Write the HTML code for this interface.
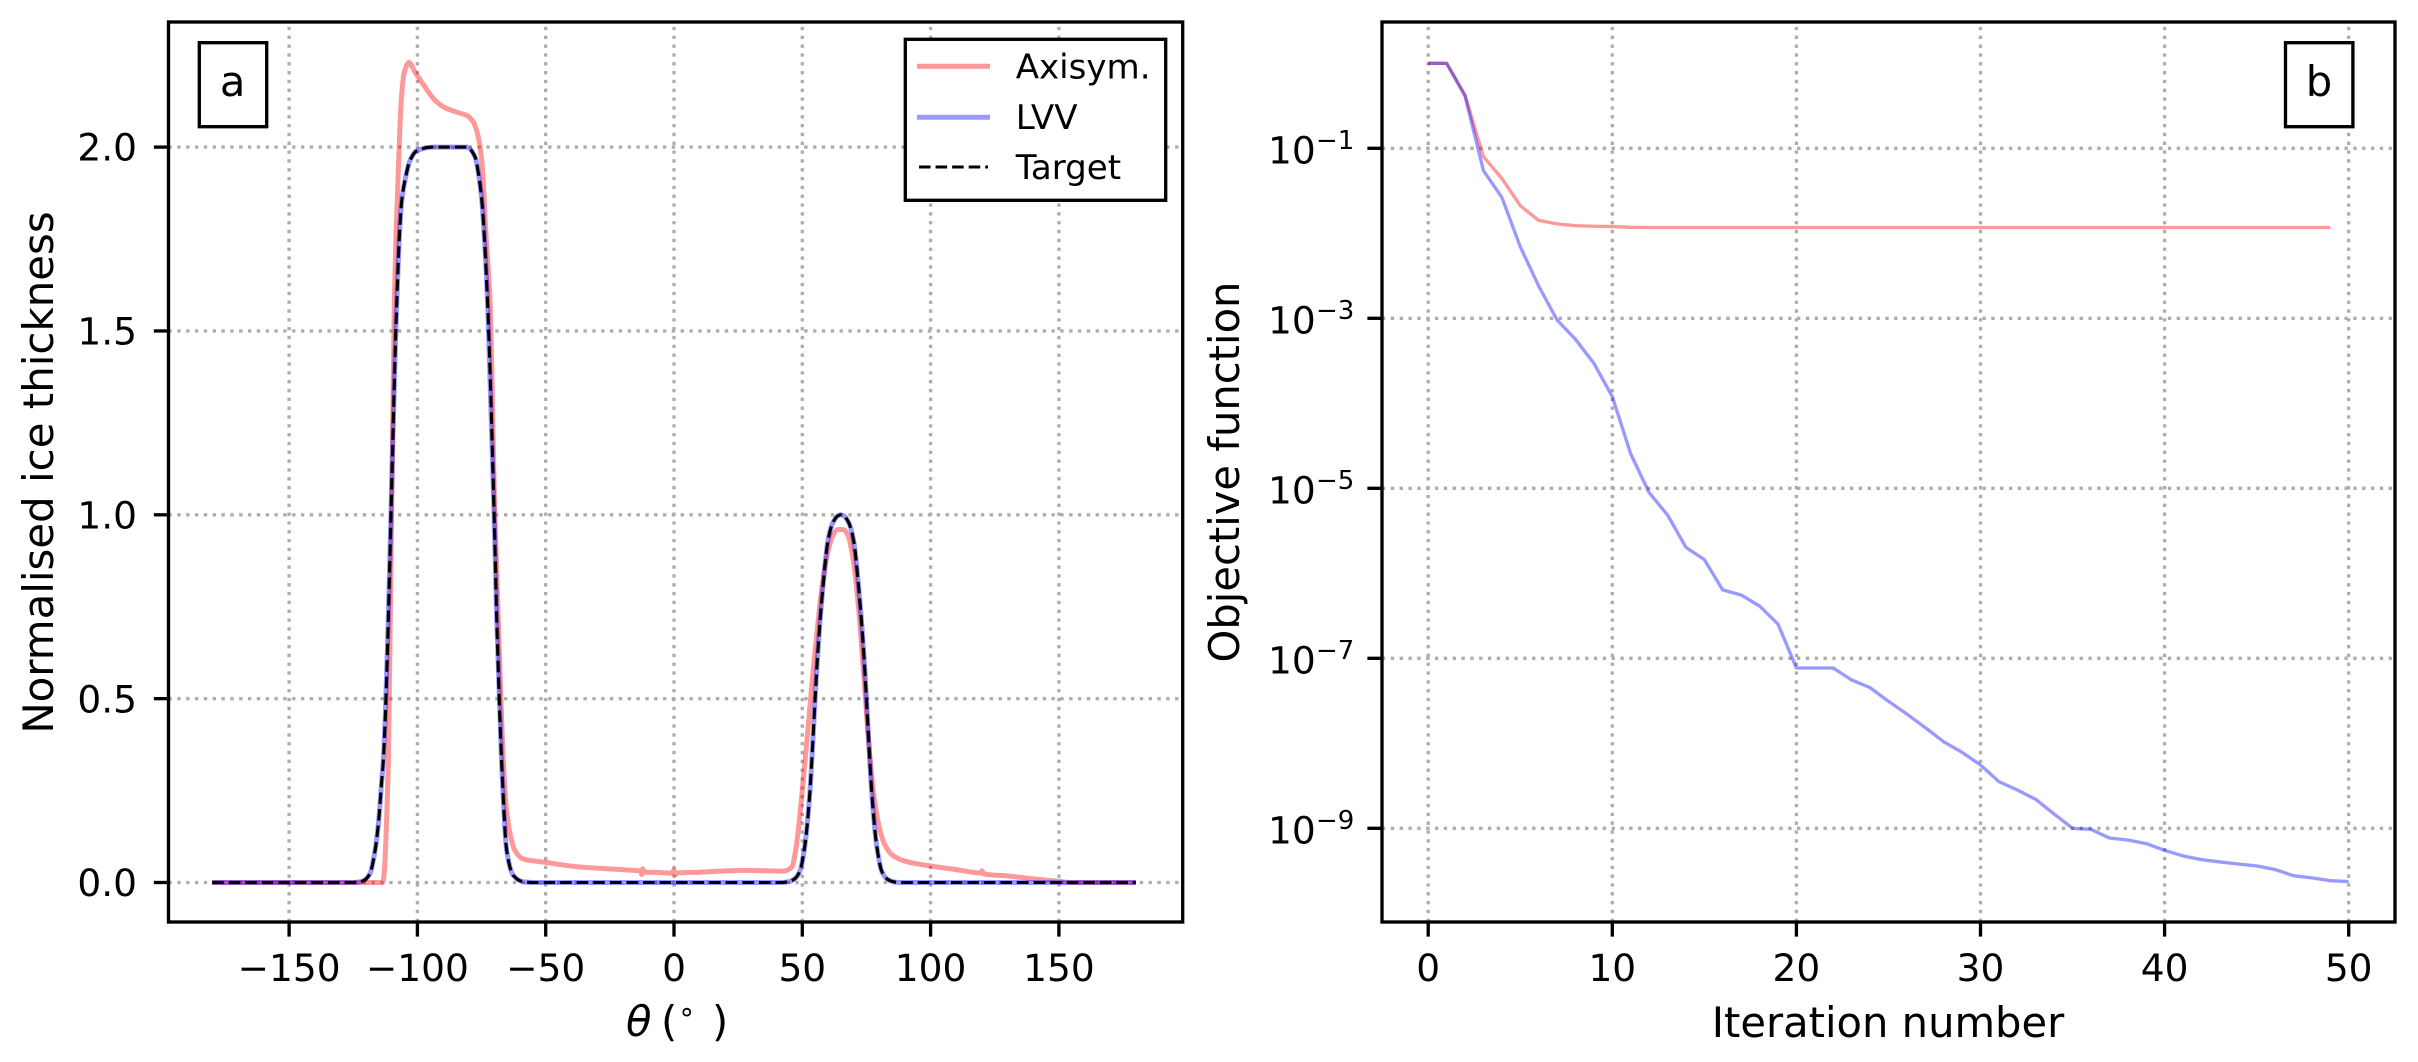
<!DOCTYPE html>
<html lang="en">
<head>
<meta charset="utf-8">
<title>Ice thickness and objective function</title>
<style>
html,body{margin:0;padding:0;background:#fff;width:2418px;height:1062px;overflow:hidden}
svg{display:block}
text{font-family:"DejaVu Sans","Liberation Sans",sans-serif;fill:#000}
.tick{font-size:37.5px}
.sup{font-size:26px}
.title{font-size:41.67px}
.leg{font-size:34.1px}
</style>
</head>
<body>
<svg id="fig" xmlns="http://www.w3.org/2000/svg" width="2418" height="1062" viewBox="0 0 2418 1062">
  <rect width="2418" height="1062" fill="#fff"/>
  <g id="panel-a">
    <g id="a-grid"></g>
    <g id="a-lines"></g>
    <rect x="168.5" y="22" width="1014.2" height="900" fill="none" stroke="#000" stroke-width="3.33"/>
    <g id="a-ticks"></g>
    <text class="title" style="font-size:41.9px" text-anchor="middle" transform="translate(53 472.5) rotate(-90)">Normalised ice thickness</text>
    <text class="title" y="1036"><tspan x="626" font-style="italic">θ</tspan><tspan x="661">(</tspan><tspan x="678" font-size="28" dy="-15">∘</tspan><tspan x="712" dy="15">)</tspan></text>
    <g>
      <rect x="199.3" y="42.7" width="67.4" height="84" fill="#fff" stroke="#000" stroke-width="3.33"/>
      <text class="title" x="232.6" y="96" text-anchor="middle">a</text>
    </g>
    <g>
      <rect x="905.3" y="39.3" width="260.4" height="161" fill="#fff" stroke="#000" stroke-width="3.33"/>
      <line x1="917" x2="990" y1="66.3" y2="66.3" stroke="#ff0000" stroke-opacity="0.4" stroke-width="5"/>
      <text class="leg" x="1015.7" y="78.3">Axisym.</text>
      <line x1="917" x2="990" y1="117.3" y2="117.3" stroke="#0000ff" stroke-opacity="0.4" stroke-width="5"/>
      <text class="leg" x="1015.7" y="129">LVV</text>
      <line x1="919" x2="988" y1="167" y2="167" stroke="#000" stroke-width="3.12" stroke-dasharray="11.56 5"/>
      <text class="leg" x="1015.7" y="179">Target</text>
    </g>
  </g>
  <g id="panel-b">
    <g id="b-grid"></g>
    <g id="b-lines"></g>
    <rect x="1382" y="22" width="1013" height="900" fill="none" stroke="#000" stroke-width="3.33"/>
    <g id="b-ticks"></g>
    <text class="title" text-anchor="middle" transform="translate(1239 472) rotate(-90)">Objective function</text>
    <text class="title" x="1888" y="1037" text-anchor="middle">Iteration number</text>
    <g>
      <rect x="2285.5" y="42.7" width="67.4" height="84" fill="#fff" stroke="#000" stroke-width="3.33"/>
      <text class="title" x="2319" y="96" text-anchor="middle">b</text>
    </g>
  </g>
</svg>
<script>
// Panel a data
const thetaTicks = [-150, -100, -50, 0, 50, 100, 150];
const thetaTickLabels = ['−150', '−100', '−50', '0', '50', '100', '150'];
const thicknessTicks = [0, 0.5, 1, 1.5, 2];
const thicknessTickLabels = ['0.0', '0.5', '1.0', '1.5', '2.0'];
const thetaShape = [-180, -125, -123, -121, -118.5, -116.5, -115.2, -113.9, -113.3, -108, -107, -106.1, -104.6, -102.9, -100.3, -94, -90, -80.8, -77.5, -76.2, -74.9, -74, -72.5, -70.1, -69.1, -67.2, -65.2, -62.6, -58.8, -55, 42, 45, 47, 49, 51, 53, 54, 55, 56, 58, 60, 62, 64, 65, 66, 68, 70, 72, 74, 75, 76, 77, 79, 81, 83, 85, 88, 180];
const targetValues = [0, 0, 0.001, 0.005, 0.024, 0.087, 0.16, 0.277, 0.33, 1.583, 1.76, 1.855, 1.918, 1.963, 1.99, 2, 2, 2, 1.973, 1.928, 1.855, 1.765, 1.55, 1, 0.72, 0.33, 0.087, 0.019, 0.002, 0, 0, 0.003, 0.01, 0.03, 0.1, 0.25, 0.37, 0.5, 0.62, 0.8, 0.93, 0.98, 0.998, 1, 0.998, 0.98, 0.93, 0.8, 0.62, 0.5, 0.37, 0.25, 0.1, 0.03, 0.01, 0.003, 0, 0];
const lvvValues = [0, 0, 0.001, 0.005, 0.024, 0.087, 0.16, 0.277, 0.33, 1.583, 1.76, 1.855, 1.918, 1.963, 1.99, 2, 2, 2, 1.973, 1.928, 1.855, 1.765, 1.55, 1, 0.72, 0.33, 0.087, 0.019, 0.002, 0, 0, 0.003, 0.01, 0.03, 0.1, 0.25, 0.37, 0.5, 0.62, 0.8, 0.93, 0.98, 0.998, 1, 0.998, 0.98, 0.93, 0.8, 0.62, 0.5, 0.37, 0.25, 0.1, 0.03, 0.01, 0.003, 0, 0];
const thetaAxisym = [-180, -113.6, -113.2, -111.3, -109, -108.3, -107.4, -106.3, -105.2, -103.3, -100.9, -97, -93.1, -89.2, -84.7, -80.8, -78.2, -76, -74.7, -73.3, -71.7, -69.8, -68.5, -66.5, -65.5, -63.9, -62, -58.7, -50.3, -37.9, -16, -13, -12.6, -12.2, -11.8, -5, -0.6, 0, 0.6, 1.4, 10, 27, 42.6, 45.9, 47.6, 49.1, 50, 52, 54, 56, 58, 60, 62, 64, 66, 68, 70, 72, 74, 76, 78, 80, 82, 85, 90, 100, 110, 119.5, 120, 120.5, 130, 140, 150, 155, 180];
const axisymValues = [0, 0, 0.01, 0.33, 1.583, 1.765, 1.945, 2.127, 2.2, 2.23, 2.204, 2.163, 2.127, 2.107, 2.095, 2.086, 2.068, 2.018, 1.945, 1.765, 1.583, 1, 0.72, 0.33, 0.214, 0.133, 0.087, 0.064, 0.055, 0.043, 0.033, 0.031, 0.022, 0.037, 0.029, 0.027, 0.025, 0.034, 0.021, 0.026, 0.028, 0.033, 0.031, 0.042, 0.096, 0.187, 0.25, 0.4, 0.56, 0.7, 0.82, 0.9, 0.945, 0.96, 0.96, 0.94, 0.87, 0.74, 0.56, 0.37, 0.23, 0.15, 0.105, 0.075, 0.058, 0.045, 0.035, 0.026, 0.032, 0.024, 0.018, 0.01, 0.003, 0, 0];

// Panel b data
const iterationTicks = [0, 10, 20, 30, 40, 50];
const iterationTickLabels = ['0', '10', '20', '30', '40', '50'];
const objectiveTickExponents = [-1, -3, -5, -7, -9];
const objectiveTickLabels = ['−1', '−3', '−5', '−7', '−9'];
const axisymObjective = [1, 1, 0.424, 7.97e-2, 4.43e-2, 2.11e-2, 1.42e-2, 1.29e-2, 1.23e-2, 1.21e-2, 1.2e-2, 1.175e-2, 1.17e-2, 1.17e-2, 1.17e-2, 1.17e-2, 1.17e-2, 1.17e-2, 1.17e-2, 1.17e-2, 1.17e-2, 1.17e-2, 1.17e-2, 1.17e-2, 1.17e-2, 1.17e-2, 1.17e-2, 1.17e-2, 1.17e-2, 1.17e-2, 1.17e-2, 1.17e-2, 1.17e-2, 1.17e-2, 1.17e-2, 1.17e-2, 1.17e-2, 1.17e-2, 1.17e-2, 1.17e-2, 1.17e-2, 1.17e-2, 1.17e-2, 1.17e-2, 1.17e-2, 1.17e-2, 1.17e-2, 1.17e-2, 1.17e-2, 1.17e-2];
const lvvObjective = [1, 1, 0.412, 5.46e-2, 2.65e-2, 6.95e-3, 2.4e-3, 9.55e-4, 5.66e-4, 2.95e-4, 1.2e-4, 2.54e-5, 8.9e-6, 4.85e-6, 2.02e-6, 1.45e-6, 6.37e-7, 5.56e-7, 4.12e-7, 2.53e-7, 7.69e-8, 7.69e-8, 7.69e-8, 5.56e-8, 4.52e-8, 3.12e-8, 2.21e-8, 1.53e-8, 1.04e-8, 7.83e-9, 5.56e-9, 3.54e-9, 2.82e-9, 2.19e-9, 1.47e-9, 1e-9, 9.73e-10, 7.69e-10, 7.29e-10, 6.61e-10, 5.51e-10, 4.73e-10, 4.28e-10, 4.02e-10, 3.8e-10, 3.61e-10, 3.27e-10, 2.77e-10, 2.61e-10, 2.42e-10, 2.36e-10];

const NS = 'http://www.w3.org/2000/svg';
const TOP = 22, BOTTOM = 922;
const xA = t => 674 + 2.566 * t;
const yA = v => 882.5 - 367.7 * v;
const xB = i => 1428.2 + 18.41 * i;
const yB = v => 148.3 - 85 * (Math.log10(v) + 1);

function mk(tag, parent) {
  const el = document.createElementNS(NS, tag);
  parent.appendChild(el);
  return el;
}
function set(el, o) {
  for (const k in o) el.setAttribute(k, o[k]);
  return el;
}
function gridLine(parent, x1, y1, x2, y2) {
  const el = mk('line', parent);
  set(el, {x1, y1, x2, y2, stroke: '#adadad', 'stroke-width': 3.33, 'stroke-dasharray': '3.33 5.5'});
  return el;
}
function tickMark(parent, x1, y1, x2, y2) {
  const el = mk('line', parent);
  set(el, {x1, y1, x2, y2, stroke: '#000', 'stroke-width': 3.33});
  return el;
}
function monotonePath(px, py) {
  const n = px.length, s = [], m = [];
  for (let i = 0; i < n - 1; i++) s.push((py[i + 1] - py[i]) / (px[i + 1] - px[i]));
  m.push(s[0]);
  for (let i = 1; i < n - 1; i++) {
    if (s[i - 1] * s[i] <= 0) { m.push(0); continue; }
    const h0 = px[i] - px[i - 1], h1 = px[i + 1] - px[i];
    m.push(3 * (h0 + h1) / ((2 * h1 + h0) / s[i - 1] + (h1 + 2 * h0) / s[i]));
  }
  m.push(s[n - 2]);
  let d = 'M' + px[0].toFixed(2) + ' ' + py[0].toFixed(2);
  for (let i = 0; i < n - 1; i++) {
    const h = (px[i + 1] - px[i]) / 3;
    d += 'C' + (px[i] + h).toFixed(2) + ' ' + (py[i] + m[i] * h).toFixed(2) + ' ' +
      (px[i + 1] - h).toFixed(2) + ' ' + (py[i + 1] - m[i + 1] * h).toFixed(2) + ' ' +
      px[i + 1].toFixed(2) + ' ' + py[i + 1].toFixed(2);
  }
  return d;
}
const aGrid = document.getElementById('a-grid');
const aLines = document.getElementById('a-lines');
const aTicks = document.getElementById('a-ticks');
const bGrid = document.getElementById('b-grid');
const bLines = document.getElementById('b-lines');
const bTicks = document.getElementById('b-ticks');

// Panel a grid and ticks
thetaTicks.forEach((t, i) => {
  const g = gridLine(aGrid, xA(t), BOTTOM, xA(t), TOP);
  
  
  const m = tickMark(aTicks, xA(t), BOTTOM, xA(t), BOTTOM + 14.6);
  
  
  const l = mk('text', aTicks);
  set(l, {x: xA(t), y: 981, 'text-anchor': 'middle', class: 'tick'});
  l.textContent = thetaTickLabels[i];
  
  
});
thicknessTicks.forEach((v, i) => {
  const g = gridLine(aGrid, 168.5, yA(v), 1182.7, yA(v));
  
  
  const m = tickMark(aTicks, 168.5, yA(v), 153.9, yA(v));
  
  
  const l = mk('text', aTicks);
  set(l, {x: 137, y: yA(v) + 13.6, 'text-anchor': 'end', class: 'tick'});
  l.textContent = thicknessTickLabels[i];
  
  
});

// Panel a series
const axisymCurve = mk('path', aLines);
set(axisymCurve, {d: monotonePath(thetaAxisym.map(xA), axisymValues.map(yA)), fill: 'none', stroke: '#ff0000', 'stroke-opacity': 0.4, 'stroke-width': 5, 'stroke-linejoin': 'round'});


const lvvCurve = mk('path', aLines);
set(lvvCurve, {d: monotonePath(thetaShape.map(xA), lvvValues.map(yA)), fill: 'none', stroke: '#0000ff', 'stroke-opacity': 0.4, 'stroke-width': 5, 'stroke-linejoin': 'round'});


const targetCurve = mk('path', aLines);
set(targetCurve, {d: monotonePath(thetaShape.map(xA), targetValues.map(yA)), fill: 'none', stroke: '#000', 'stroke-width': 3.12, 'stroke-dasharray': '11.56 5'});



// Panel b grid and ticks
iterationTicks.forEach((t, i) => {
  const g = gridLine(bGrid, xB(t), BOTTOM, xB(t), TOP);
  
  
  const m = tickMark(bTicks, xB(t), BOTTOM, xB(t), BOTTOM + 14.6);
  
  
  const l = mk('text', bTicks);
  set(l, {x: xB(t), y: 981, 'text-anchor': 'middle', class: 'tick'});
  l.textContent = iterationTickLabels[i];
  
  
});
objectiveTickExponents.forEach((e, i) => {
  const y = yB(Math.pow(10, e));
  const g = gridLine(bGrid, 1382, y, 2395, y);
  
  
  const m = tickMark(bTicks, 1382, y, 1367.4, y);
  
  
  const l = mk('text', bTicks);
  set(l, {x: 1268, y: y + 15, class: 'tick'});
  l.textContent = '10';
  
  
  const s = mk('text', bTicks);
  set(s, {x: 1316, y: y + 0.7, class: 'sup'});
  s.textContent = objectiveTickLabels[i];
  
  
});

// Panel b series
function polyPoints(values) {
  return values.map((v, i) => xB(i).toFixed(2) + ',' + yB(v).toFixed(2)).join(' ');
}
const axisymObj = mk('polyline', bLines);
set(axisymObj, {points: polyPoints(axisymObjective), fill: 'none', stroke: '#ff0000', 'stroke-opacity': 0.4, 'stroke-width': 3.33, 'stroke-linejoin': 'round'});


const lvvObj = mk('polyline', bLines);
set(lvvObj, {points: polyPoints(lvvObjective), fill: 'none', stroke: '#0000ff', 'stroke-opacity': 0.4, 'stroke-width': 3.33, 'stroke-linejoin': 'round'});


</script>
</body>
</html>
